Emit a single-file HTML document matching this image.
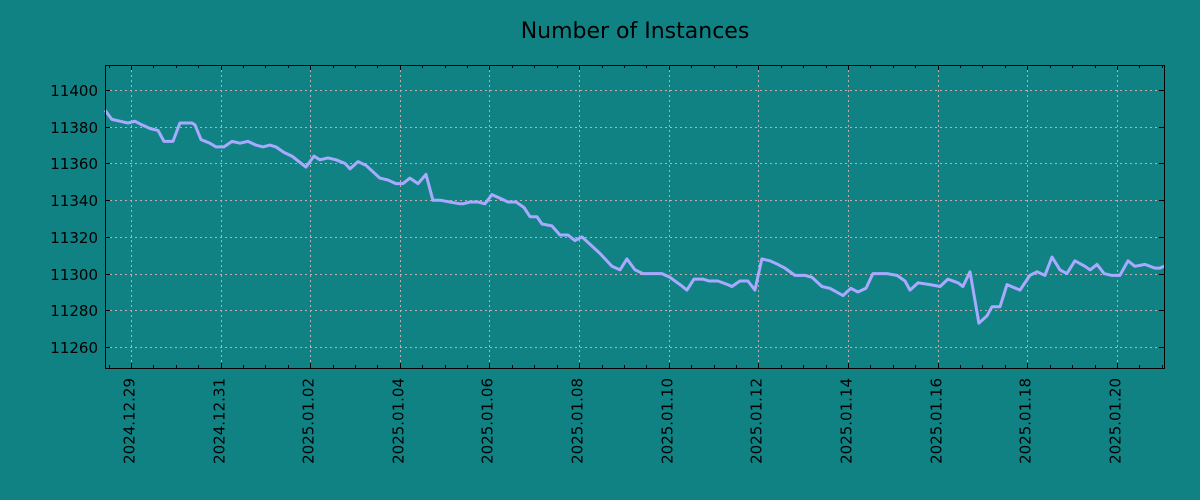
<!DOCTYPE html>
<html><head><meta charset="utf-8"><style>
html,body{margin:0;padding:0;background:#108284;}
svg{display:block;font-family:"DejaVu Sans","Liberation Sans",sans-serif;}
</style></head><body>
<svg id="chart" width="1200" height="500">
<rect x="0" y="0" width="1200" height="500" fill="#108284"/>
<text x="635" y="38" text-anchor="middle" font-size="22" fill="#000">Number of Instances</text>
<g id="grid"></g>
<g id="series"></g>
<rect x="105.5" y="65.5" width="1059" height="303" fill="none" stroke="#000" stroke-width="1"/>
<g id="axes"></g>
</svg>
<script>
const hours = [-13.9,-10.2,-5.9,-1.6,2.1,5.9,10.2,14.5,17.7,22.5,26.2,32.7,34.3,37.5,42.3,45.5,49.8,54.1,58.4,62.7,66.9,70.7,74.4,77.6,81.9,86.2,93.7,98,101.2,105.5,109.8,114.6,117.3,121.6,125.8,133.3,137.6,141.9,145.7,149.4,153.7,158,161.7,165.5,170.8,176.2,177.8,181.5,185.8,189.6,193.3,197.6,201.9,206.2,210.5,213.7,217.4,220.1,225.4,229.7,234,237.8,241.5,245.8,251.1,257.6,261.9,265.6,269.9,274.2,284.3,288.6,294,297.7,301.5,306.3,309.5,314.3,319.6,321.8,326.1,330.4,334.1,337.9,342.2,346.4,350.2,355.6,360.9,364.7,370,374.3,381.3,385.5,389.3,393.6,397.3,404.8,410.2,414.5,417.2,421.5,427.9,433.3,437.5,442.9,445.5,449.3,454.1,458.4,461.1,465.4,469.1,476.1,481.4,485.2,489.4,493.2,497.5,501.2,505.5,510.9,513.6,517.3,521.1,525.3,529.6,533.9,537.6,543,548.3,551,553.2];
const values = [11389,11384,11383,11382,11383,11381,11379,11378,11372,11372,11382,11382,11381,11373,11371,11369,11369,11372,11371,11372,11370,11369,11370,11369,11366,11364,11358,11364,11362,11363,11362,11360,11357,11361,11359,11352,11351,11349,11349,11352,11349,11354,11340,11340,11339,11338,11338,11339,11339,11338,11343,11341,11339,11339,11336,11331,11331,11327,11326,11321,11321,11318,11320,11316,11311,11304,11302,11308,11302,11300,11300,11298,11294,11291,11297,11297,11296,11296,11294,11293,11296,11296,11291,11308,11307,11305,11303,11299,11299,11298,11293,11292,11288,11292,11290,11292,11300,11300,11299,11296,11291,11295,11294,11293,11297,11295,11293,11301,11273,11277,11282,11282,11294,11291,11299,11301,11299,11309,11302,11300,11307,11304,11302,11305,11300,11299,11299,11307,11304,11305,11303,11303,11304];
const xTickHours = [0,48,96,144,192,240,288,336,384,432,480,528];
const xTickLabels = ["2024.12.29","2024.12.31","2025.01.02","2025.01.04","2025.01.06","2025.01.08","2025.01.10","2025.01.12","2025.01.14","2025.01.16","2025.01.18","2025.01.20"];
const yTicks = [11260,11280,11300,11320,11340,11360,11380,11400];

const L=105,R=1164,T=65,B=368;
const xMin=-13.9,xMax=553.2,yMin=11248.6,yMax=11413.6;
const X=h=>L+(h-xMin)/(xMax-xMin)*(R-L);
const Y=v=>B-(v-yMin)/(yMax-yMin)*(B-T);
const NS="http://www.w3.org/2000/svg";
function mk(tag,attrs,parent){const e=document.createElementNS(NS,tag);for(const k in attrs)e.setAttribute(k,attrs[k]);parent.appendChild(e);return e;}
const grid=document.getElementById('grid'),axes=document.getElementById('axes'),series=document.getElementById('series');

xTickHours.forEach((h,i)=>{
  const x=Math.round(X(h))+0.5;
  const g=mk('line',{x1:x,x2:x,y1:T,y2:B,stroke:'#c8a8a8','stroke-width':1,'stroke-dasharray':'2,3'},grid);
  
  
  const t1=mk('line',{x1:x,x2:x,y1:B,y2:B-5,stroke:'#000'},axes);
  
  
  const t2=mk('line',{x1:x,x2:x,y1:T,y2:T+5,stroke:'#000'},axes);
  
  
  const lb=mk('text',{x:0,y:0,'font-size':15,fill:'#000','text-anchor':'end',transform:`translate(${x+3},378) rotate(-90)`},axes);
  lb.textContent=xTickLabels[i];
  
  
});
for(let h=-12;h<=xMax;h+=12){
  if(h%48===0)continue;
  const x=Math.round(X(h))+0.5;
  const m1=mk('line',{x1:x,x2:x,y1:B,y2:B-3,stroke:'#000'},axes);
  
  
  const m2=mk('line',{x1:x,x2:x,y1:T,y2:T+3,stroke:'#000'},axes);
  
  
}
yTicks.forEach(v=>{
  const y=Math.round(Y(v))+0.5;
  const g=mk('line',{x1:L,x2:R,y1:y,y2:y,stroke:'#c8a8a8','stroke-width':1,'stroke-dasharray':'2,3'},grid);
  
  
  const t1=mk('line',{x1:L,x2:L+5,y1:y,y2:y,stroke:'#000'},axes);
  
  
  const t2=mk('line',{x1:R-5,x2:R,y1:y,y2:y,stroke:'#000'},axes);
  
  
  const lb=mk('text',{x:98,y:y+5.5,'font-size':15,fill:'#000','text-anchor':'end'},axes);
  lb.textContent=v;
  
  
});
const pts=hours.map((h,i)=>X(h).toFixed(1)+','+Y(values[i]).toFixed(1)).join(' ');
const line=mk('polyline',{points:pts,fill:'none',stroke:'#a8aaff','stroke-width':3,'stroke-linejoin':'round'},series);


</script>
</body></html>
